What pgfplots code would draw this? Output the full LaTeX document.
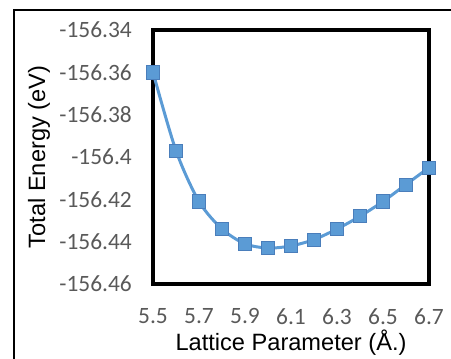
\documentclass[border=0pt]{standalone}
\usepackage{pgfplots}
\pgfplotsset{compat=1.18}
\usepackage{fontspec}
\setmainfont{Liberation Sans}
\newfontfamily\tickfont{Carlito}

\definecolor{seriesblue}{HTML}{5B9BD5}
\definecolor{markedge}{HTML}{4A7EBB}
\definecolor{ticktext}{HTML}{595959}

\begin{document}
\begin{tikzpicture}[x=1bp,y=1bp]
  \useasboundingbox (0,0) rectangle (451,358);
  % chart frame (left and top edges)
  \draw[line width=1.6bp,black] (14,-2) -- (14,348) -- (453,348);

  \begin{axis}[
    at={(153bp,74bp)}, anchor=south west,
    scale only axis,
    width=276bp, height=254bp,
    xmin=5.5, xmax=6.7,
    ymin=-156.46, ymax=-156.34,
    scaled x ticks=false, scaled y ticks=false,
    xtick={5.5,5.7,5.9,6.1,6.3,6.5,6.7},
    xticklabels={5.5,5.7,5.9,6.1,6.3,6.5,6.7},
    ytick={-156.46,-156.44,-156.42,-156.40,-156.38,-156.36,-156.34},
    yticklabels={-156.46,-156.44,-156.42,-156.4,-156.38,-156.36,-156.34},
    major tick length=0pt,
    tick label style={font=\tickfont\fontsize{23.5}{26}\selectfont, text=ticktext, inner sep=0pt},
    yticklabel style={anchor=east, xshift=-21bp},
    xticklabel style={anchor=north, yshift=-24bp},
    axis line style={line width=4bp, black},
    xlabel={Lattice Parameter (Å.)},
    ylabel={Total Energy (eV)},
    label style={font=\fontsize{23.7}{28}\selectfont, inner sep=0pt},
    xlabel style={at={(axis description cs:0.5,-0.2626)}, anchor=base},
    ylabel style={at={(axis description cs:-0.3913,0.5)}, anchor=base, rotate=0},
    clip=false,
  ]
    \addplot[
      seriesblue, line width=3bp, smooth,
      mark=square*, mark size=6.6bp,
      mark options={fill=seriesblue, draw=markedge, line width=0.8bp, solid},
    ] coordinates {
      (5.5,-156.360)
      (5.6,-156.397)
      (5.7,-156.421)
      (5.8,-156.434)
      (5.9,-156.441)
      (6.0,-156.443)
      (6.1,-156.442)
      (6.2,-156.439)
      (6.3,-156.434)
      (6.4,-156.428)
      (6.5,-156.421)
      (6.6,-156.413)
      (6.7,-156.405)
    };
  \end{axis}
\end{tikzpicture}
\end{document}
